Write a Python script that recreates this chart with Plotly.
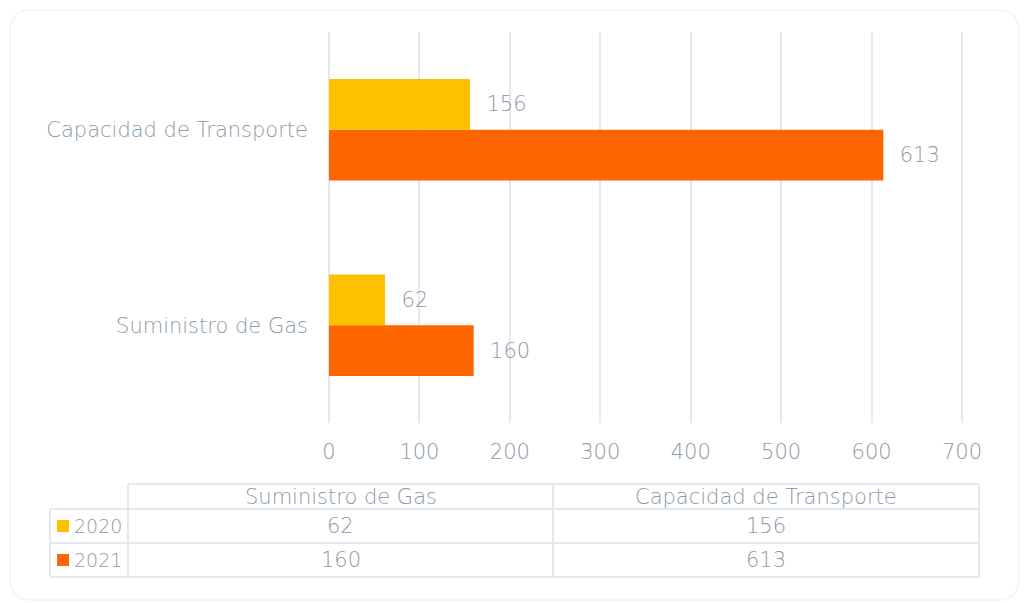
import plotly.graph_objects as go

# ---- data ----
categories = ["Suministro de Gas", "Capacidad de Transporte"]
series_names = ["2020", "2021"]
values_2020 = [62, 156]
values_2021 = [160, 613]
x_ticks = [0, 100, 200, 300, 400, 500, 600, 700]

colors = {"2020": "#FFC000", "2021": "#FF6600"}
series_values = {"2020": values_2020, "2021": values_2021}

W, H = 1029, 603
TXT = "#8C99A9"
GRID = "#E4E9EF"
FONT = "DejaVu Sans"
FS = 21
FW = 200
X_MAX = 705


def px(x):
    return x / W


def py(y):
    return 1 - y / H


def tf(size=FS):
    return dict(color=TXT, size=size, family=FONT, weight=FW)


fig = go.Figure()
for name in reversed(series_names):
    vals = series_values[name]
    fig.add_trace(go.Bar(
        y=categories, x=vals, name=name, orientation="h",
        marker=dict(color=colors[name], line=dict(width=0)),
        text=[f"\u00a0\u00a0{v}" for v in vals], textposition="outside",
        textfont=tf(),
        cliponaxis=False,
    ))

shapes = []
annotations = []

# outer card
r = 22
x0, y0, x1, y1 = 10, 10, 1019, 600
path = (f"M {px(x0 + r)},{py(y0)} L {px(x1 - r)},{py(y0)} "
        f"Q {px(x1)},{py(y0)} {px(x1)},{py(y0 + r)} L {px(x1)},{py(y1 - r)} "
        f"Q {px(x1)},{py(y1)} {px(x1 - r)},{py(y1)} L {px(x0 + r)},{py(y1)} "
        f"Q {px(x0)},{py(y1)} {px(x0)},{py(y1 - r)} L {px(x0)},{py(y0 + r)} "
        f"Q {px(x0)},{py(y0)} {px(x0 + r)},{py(y0)} Z")
shapes.append(dict(type="path", xref="paper", yref="paper", path=path,
                   line=dict(color="#F3F3F3", width=1.5), layer="below"))

# data table
tl = dict(color=GRID, width=2)
hx0, cx1, cx2, tx1 = 128, 553, 979, 979
lx0 = 50
ty_head, ty_r1, ty_r2, ty_bot = 484, 509, 543, 577


def hline(xa, xb, y):
    shapes.append(dict(type="line", xref="paper", yref="paper",
                       x0=px(xa), x1=px(xb), y0=py(y), y1=py(y), line=tl))


def vline(x, ya, yb):
    shapes.append(dict(type="line", xref="paper", yref="paper",
                       x0=px(x), x1=px(x), y0=py(ya), y1=py(yb), line=tl))


hline(hx0, tx1, ty_head)
hline(lx0, tx1, ty_r1)
hline(lx0, tx1, ty_r2)
hline(lx0, tx1, ty_bot)
vline(lx0, ty_r1, ty_bot)
vline(hx0, ty_head, ty_bot)
vline(cx1, ty_head, ty_bot)
vline(cx2, ty_head, ty_bot)

col_centers = [(hx0 + cx1) / 2, (cx1 + cx2) / 2]
row_centers = [(ty_r1 + ty_r2) / 2, (ty_r2 + ty_bot) / 2]
head_center = (ty_head + ty_r1) / 2

for c, cat in zip(col_centers, categories):
    annotations.append(dict(x=px(c), y=py(head_center), xref="paper", yref="paper",
                            text=cat, showarrow=False, xanchor="center", yanchor="middle",
                            font=tf()))

for rc, name in zip(row_centers, series_names):
    shapes.append(dict(type="rect", xref="paper", yref="paper",
                       x0=px(57), x1=px(69), y0=py(rc - 6), y1=py(rc + 6),
                       fillcolor=colors[name], line=dict(width=0)))
    annotations.append(dict(x=px(72), y=py(rc), xref="paper", yref="paper",
                            text=name, showarrow=False, xanchor="left", yanchor="middle",
                            font=tf(19)))
    for c, v in zip(col_centers, series_values[name]):
        annotations.append(dict(x=px(c), y=py(rc), xref="paper", yref="paper",
                                text=str(v), showarrow=False, xanchor="center", yanchor="middle",
                                font=tf()))

# plot area: 0 at x=329px, 700 at x=962px
x_left, x_700 = 329, 962
x_right = x_left + (x_700 - x_left) * X_MAX / 700

fig.update_layout(
    width=W, height=H, autosize=False,
    margin=dict(l=0, r=0, t=0, b=0, pad=0, autoexpand=False),
    paper_bgcolor="white", plot_bgcolor="white",
    barmode="group", bargap=0.48, bargroupgap=0,
    showlegend=False,
    font=tf(),
    xaxis=dict(domain=[px(x_left), px(x_right)], range=[0, X_MAX], tickvals=x_ticks,
               showgrid=True, gridcolor=GRID, gridwidth=2, automargin=False,
               zeroline=True, zerolinecolor=GRID, zerolinewidth=2,
               showline=False, ticks="", ticklabelstandoff=14,
               tickfont=tf(), fixedrange=True),
    yaxis=dict(domain=[py(423), py(32)], showgrid=False, zeroline=False,
               automargin=False,
               showline=False, ticks="", ticklabelstandoff=20,
               tickfont=tf(), fixedrange=True),
    shapes=shapes, annotations=annotations,
)

fig.write_html("out.html")
